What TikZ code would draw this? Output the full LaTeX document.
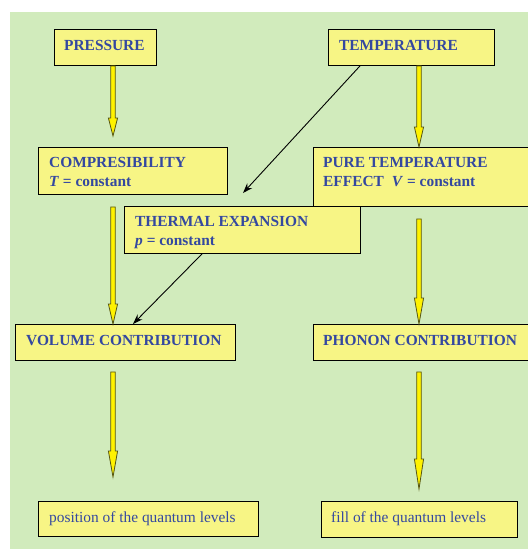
\documentclass[tikz,border=0pt]{standalone}
\usepackage{fontspec}
\setmainfont{Liberation Serif}
\usetikzlibrary{arrows.meta,calc}
\definecolor{bggreen}{RGB}{209,235,188}
\definecolor{boxyellow}{RGB}{247,245,133}
\definecolor{txtblue}{RGB}{52,72,160}
\definecolor{olivedark}{RGB}{85,85,20}
\tikzset{
  box/.style={draw=black, line width=0.9pt, fill=boxyellow, rectangle, inner sep=0pt, anchor=north west},
  lbl/.style={text=txtblue, font=\fontsize{15.4}{19}\selectfont\bfseries, inner sep=0pt, anchor=base west},
  lblr/.style={text=txtblue, font=\fontsize{15.4}{19}\selectfont, inner sep=0pt, anchor=base west},
  yarrow/.style={draw=olivedark, line width=0.8pt, fill=yellow, line join=miter},
  karrow/.style={draw=black, line width=0.9pt, -{Stealth[length=10pt,width=7pt]}}
}
\newcommand\yarr[3]{\draw[yarrow] let \p1=#1, \p2=#2 in
  (\x1-2.3pt,\y1) -- (\x1+2.3pt,\y1) -- (\x1+2.3pt,\y2+#3pt) -- (\x1+4.6pt,\y2+#3pt)
  -- (\x1,\y2) -- (\x1-4.6pt,\y2+#3pt) -- (\x1-2.3pt,\y2+#3pt) -- cycle;}
\begin{document}
\begin{tikzpicture}[x=1pt,y=-1pt]
\useasboundingbox (0,0) rectangle (528,550);
\clip (0,0) rectangle (528,550);
\fill[white] (0,0) rectangle (528,550);
\fill[bggreen] (10,12) rectangle (528,549);

% boxes
\node[box, minimum width=102pt, minimum height=36pt] (pres) at (54,29) {};
\node[box, minimum width=166pt, minimum height=36pt] (temp) at (328,29) {};
\node[box, minimum width=189pt, minimum height=47pt] (comp) at (38,147) {};
\node[box, minimum width=230pt, minimum height=59pt] (pure) at (313,147) {};
\node[box, minimum width=236pt, minimum height=47pt] (therm) at (124,206) {};
\node[box, minimum width=220pt, minimum height=36pt] (vol) at (15,324) {};
\node[box, minimum width=230pt, minimum height=36pt] (phon) at (313,324) {};
\node[box, minimum width=220pt, minimum height=35pt] (posn) at (38,501) {};
\node[box, minimum width=196pt, minimum height=36pt] (fill) at (321,501) {};

% labels
\node[lbl] (tpres) at (64,50) {PRESSURE};
\node[lbl] (ttemp) at (339,50) {TEMPERATURE};
\node[lbl] (tcompa) at (49,167) {COMPRESIBILITY};
\node[lbl] (tcompb) at (49,186) {\textit{T} = constant};
\node[lbl] (tpurea) at (323,167) {PURE TEMPERATURE};
\node[lbl] (tpureb) at (323,186) {EFFECT\hspace{8pt}\textit{V} = constant};
\node[lbl] (tthea) at (135,226) {THERMAL EXPANSION};
\node[lbl] (ttheb) at (135,245) {\textit{p} = constant};
\node[lbl] (tvol) at (26,345) {VOLUME CONTRIBUTION};
\node[lbl] (tphon) at (323,345) {PHONON CONTRIBUTION};
\node[lblr] (tposn) at (49,522) {position of the quantum levels};
\node[lblr] (tfill) at (331,522) {fill of the quantum levels};

% free ends
\coordinate (presend) at (113,136);
\coordinate (compend) at (113,324);
\coordinate (volend) at (113,477);
\coordinate (phonend) at (419,489);
\coordinate (pureend) at (419,324);
\coordinate (tempend) at (419,147);
\coordinate (thermtip) at (243,193);

% yellow arrows
\yarr{($(pres.south west)+(59,0)$)}{(presend)}{18}
\yarr{($(temp.south west)+(91,0)$)}{(tempend)}{20}
\yarr{($(comp.south west)+(75,12)$)}{(compend)}{20}
\yarr{($(pure.south west)+(106,12)$)}{(pureend)}{26}
\yarr{($(vol.south west)+(98,11)$)}{(volend)}{26}
\yarr{($(phon.south west)+(106,11)$)}{(phonend)}{30}

% black arrows
\draw[karrow] ($(temp.south west)+(32,0)$) -- (thermtip);
\draw[karrow] ($(therm.south west)+(78,0)$) -- ($(vol.north west)+(118,0)$);
\end{tikzpicture}
\end{document}
